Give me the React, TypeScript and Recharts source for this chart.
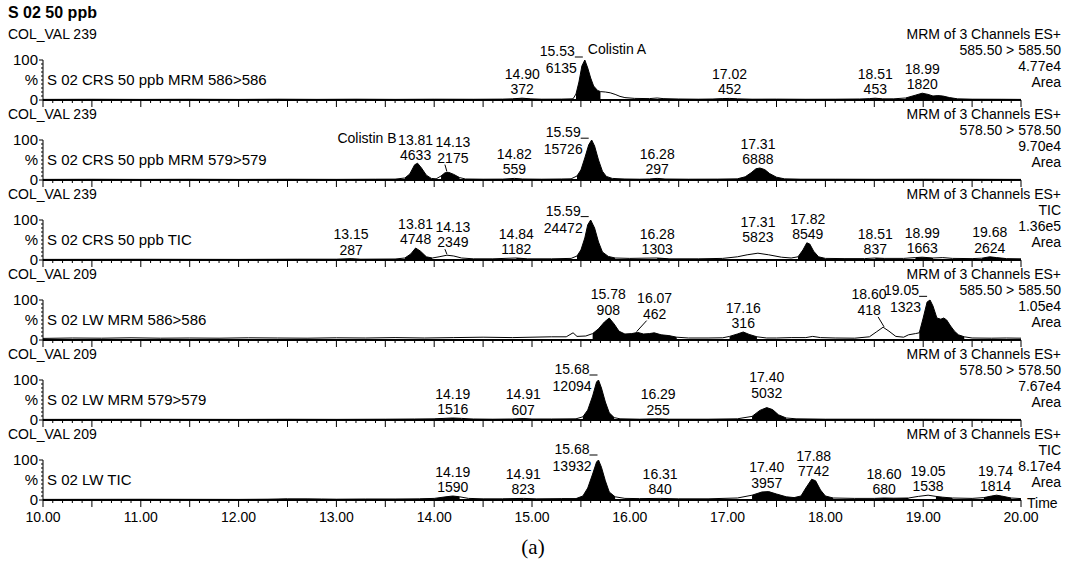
import React from "react";
import { ComposedChart, Area, Line, XAxis, YAxis, ReferenceDot } from "recharts";

const FONT = "'Liberation Sans', Arial, Helvetica, sans-serif";

// x axis: labelled every minute, ticks every 0.1 min
const timeLabels = ["10.00", "11.00", "12.00", "13.00", "14.00", "15.00", "16.00", "17.00", "18.00", "19.00", "20.00"];
const yTicks = [0, 10, 20, 30, 40, 50, 60, 70, 80, 90, 100];

const colValues = ["COL_VAL 239", "COL_VAL 239", "COL_VAL 239", "COL_VAL 209", "COL_VAL 209", "COL_VAL 209"];
const sampleNames = [
  "S 02 CRS 50 ppb MRM 586>586",
  "S 02 CRS 50 ppb MRM 579>579",
  "S 02 CRS 50 ppb TIC",
  "S 02 LW MRM 586>586",
  "S 02 LW MRM 579>579",
  "S 02 LW TIC",
];
const channelNames = ["585.50 > 585.50", "578.50 > 578.50", "TIC", "585.50 > 585.50", "578.50 > 578.50", "TIC"];
const intensities = ["4.77e4", "9.70e4", "1.36e5", "1.05e4", "7.67e4", "8.17e4"];

// traces: [time (min), relative intensity (%)]
const p1Trace: [number, number][] = [
  [10, 1.5], [10.5, 1.8], [11, 1.5], [11.5, 1.8], [12, 1.5], [12.4, 2], [12.8, 1.6], [13.2, 2], [13.6, 1.6],
  [14, 2], [14.4, 1.8], [14.7, 2.2], [14.8, 3], [14.9, 4.5], [14.98, 3], [15.1, 2], [15.3, 2.2], [15.42, 3],
  [15.45, 15], [15.48, 45], [15.51, 85], [15.54, 100], [15.57, 80], [15.6, 55], [15.63, 35], [15.67, 24],
  [15.7, 21], [15.75, 20], [15.8, 18], [15.85, 14], [15.9, 9], [15.95, 6], [16.05, 4], [16.2, 3.5], [16.28, 5],
  [16.34, 3.5], [16.5, 2.5], [16.7, 2], [16.85, 2.5], [16.95, 3.5], [17.02, 4], [17.1, 3], [17.25, 2], [17.5, 2.2],
  [17.8, 1.8], [18.1, 2], [18.35, 2.5], [18.45, 3.5], [18.51, 4.5], [18.58, 3], [18.7, 3], [18.82, 5], [18.92, 12],
  [18.99, 17], [19.05, 14], [19.1, 10], [19.15, 11], [19.2, 10], [19.27, 6], [19.35, 3], [19.5, 2], [19.8, 1.8], [20, 1.5],
];
const p1Windows: [number, number][] = [[14.75, 15.0], [15.43, 15.7], [16.85, 17.15], [18.42, 18.6], [18.8, 19.38]];
const p1Peaks = [
  { rt: "14.90", area: "372" },
  { rt: "15.53", area: "6135", name: "Colistin A" },
  { rt: "17.02", area: "452" },
  { rt: "18.51", area: "453" },
  { rt: "18.99", area: "1820" },
];

const p2Trace: [number, number][] = [
  [10, 1.5], [10.5, 1.8], [11, 1.5], [11.5, 1.8], [12, 1.5], [12.5, 1.8], [13, 1.6], [13.4, 2], [13.6, 2.2],
  [13.7, 5], [13.75, 15], [13.8, 38], [13.83, 42], [13.87, 30], [13.92, 12], [13.97, 4], [14.02, 3], [14.07, 10],
  [14.11, 18], [14.15, 19], [14.2, 14], [14.26, 6], [14.32, 2.5], [14.5, 2], [14.7, 2.2], [14.82, 4], [14.9, 2.5],
  [15.1, 2], [15.3, 2.5], [15.4, 3], [15.46, 10], [15.5, 25], [15.54, 55], [15.58, 88], [15.61, 100], [15.64, 85],
  [15.68, 50], [15.72, 22], [15.76, 9], [15.82, 4], [15.95, 2.5], [16.1, 2], [16.2, 2.5], [16.28, 4], [16.36, 2.5],
  [16.6, 2], [16.9, 2.2], [17.1, 3], [17.18, 8], [17.24, 18], [17.29, 28], [17.33, 30], [17.38, 26], [17.43, 16],
  [17.5, 7], [17.58, 3], [17.75, 2], [18.1, 2], [18.5, 1.8], [19, 2], [19.5, 1.8], [20, 1.5],
];
const p2Windows: [number, number][] = [[13.68, 14.0], [14.03, 14.3], [14.72, 14.92], [15.42, 15.85], [16.18, 16.4], [17.1, 17.6]];
const p2Peaks = [
  { rt: "13.81", area: "4633", name: "Colistin B" },
  { rt: "14.13", area: "2175" },
  { rt: "14.82", area: "559" },
  { rt: "15.59", area: "15726" },
  { rt: "16.28", area: "297" },
  { rt: "17.31", area: "6888" },
];

const p3Trace: [number, number][] = [
  [10, 1.5], [11, 1.8], [12, 1.5], [12.6, 2], [13, 2], [13.15, 3.5], [13.25, 2], [13.6, 2.5], [13.7, 5],
  [13.76, 15], [13.81, 30], [13.86, 22], [13.92, 8], [13.98, 5], [14.05, 8], [14.13, 12], [14.2, 10], [14.28, 5],
  [14.4, 3], [14.6, 3], [14.84, 5], [14.95, 3], [15.2, 3], [15.4, 4], [15.46, 10], [15.5, 25], [15.54, 55],
  [15.57, 88], [15.6, 100], [15.64, 80], [15.68, 45], [15.72, 20], [15.78, 9], [15.85, 5], [16, 4], [16.28, 5],
  [16.4, 3], [16.7, 3], [16.95, 4], [17.1, 8], [17.2, 13], [17.31, 17], [17.42, 13], [17.55, 7], [17.65, 5],
  [17.72, 8], [17.77, 25], [17.81, 43], [17.84, 40], [17.88, 22], [17.93, 8], [18, 4], [18.2, 3.5], [18.4, 3.5],
  [18.51, 5], [18.6, 4], [18.8, 4], [18.92, 6], [18.99, 7], [19.1, 5], [19.2, 6], [19.3, 4], [19.5, 3.5],
  [19.6, 4.5], [19.68, 8], [19.75, 6], [19.85, 3.5], [20, 3],
];
const p3Windows: [number, number][] = [
  [13.1, 13.22], [13.68, 13.98], [14.7, 14.95], [15.42, 15.85], [16.15, 16.4], [17.66, 18.0], [18.42, 18.62],
  [18.85, 19.1], [19.55, 19.9],
];
const p3Peaks = [
  { rt: "13.15", area: "287" },
  { rt: "13.81", area: "4748" },
  { rt: "14.13", area: "2349" },
  { rt: "14.84", area: "1182" },
  { rt: "15.59", area: "24472" },
  { rt: "16.28", area: "1303" },
  { rt: "17.31", area: "5823" },
  { rt: "17.82", area: "8549" },
  { rt: "18.51", area: "837" },
  { rt: "18.99", area: "1663" },
  { rt: "19.68", area: "2624" },
];

const p4Trace: [number, number][] = [
  [10, 4], [10.3, 5], [10.6, 4.5], [10.9, 5.5], [11.2, 4.5], [11.5, 5], [11.8, 4.5], [12.1, 5.5], [12.4, 5],
  [12.7, 4.5], [13, 5.5], [13.3, 5], [13.6, 6], [13.9, 5], [14.2, 6], [14.5, 7], [14.8, 6], [15, 7], [15.2, 8],
  [15.35, 8], [15.42, 18], [15.46, 9], [15.55, 10], [15.62, 16], [15.68, 28], [15.74, 45], [15.79, 55], [15.84, 40],
  [15.89, 22], [15.95, 15], [16.02, 16], [16.08, 19], [16.14, 15], [16.2, 16], [16.25, 18], [16.32, 13], [16.4, 11],
  [16.48, 7], [16.6, 5], [16.8, 5], [16.95, 5.5], [17.02, 9], [17.1, 15], [17.16, 20], [17.22, 14], [17.3, 8],
  [17.4, 5], [17.5, 5], [17.65, 6], [17.8, 6], [17.87, 9], [17.95, 6], [18.1, 5], [18.3, 4.5], [18.45, 8],
  [18.52, 20], [18.59, 32], [18.65, 22], [18.72, 9], [18.8, 7], [18.85, 13], [18.92, 16], [18.96, 18], [19, 55],
  [19.04, 95], [19.07, 100], [19.1, 85], [19.14, 55], [19.18, 52], [19.21, 55], [19.24, 50], [19.28, 35],
  [19.32, 22], [19.36, 13], [19.42, 8], [19.5, 5], [19.7, 4.5], [19.85, 5], [20, 4.5],
];
const p4Windows: [number, number][] = [[15.58, 16.5], [17.0, 17.35], [18.96, 19.45]];
const p4Peaks = [
  { rt: "15.78", area: "908" },
  { rt: "16.07", area: "462" },
  { rt: "17.16", area: "316" },
  { rt: "18.60", area: "418" },
  { rt: "19.05", area: "1323" },
];

const p5Trace: [number, number][] = [
  [10, 1.5], [11, 1.8], [12, 1.5], [12.5, 1.8], [13, 1.6], [13.5, 2], [13.8, 2.5], [14, 3], [14.1, 4], [14.19, 5],
  [14.28, 4], [14.4, 2.5], [14.6, 2], [14.8, 2.5], [14.91, 3.5], [15, 2.5], [15.2, 2.5], [15.45, 3], [15.52, 8],
  [15.57, 25], [15.62, 60], [15.66, 95], [15.68, 100], [15.71, 80], [15.75, 45], [15.79, 18], [15.84, 6],
  [15.9, 3], [16.1, 2], [16.29, 3], [16.4, 2], [16.8, 2], [17.1, 3], [17.25, 9], [17.33, 24], [17.4, 31],
  [17.46, 26], [17.52, 13], [17.6, 5], [17.7, 3], [18, 2], [18.5, 2], [19, 2], [19.5, 1.8], [20, 1.5],
];
const p5Windows: [number, number][] = [[14.0, 14.35], [14.78, 15.0], [15.48, 15.88], [16.2, 16.38], [17.2, 17.62]];
const p5Peaks = [
  { rt: "14.19", area: "1516" },
  { rt: "14.91", area: "607" },
  { rt: "15.68", area: "12094" },
  { rt: "16.29", area: "255" },
  { rt: "17.40", area: "5032" },
];

const p6Trace: [number, number][] = [
  [10, 1.5], [11, 1.8], [12, 1.5], [12.3, 2], [12.5, 3], [12.7, 3], [12.85, 2.5], [13, 2], [13.3, 2.5], [13.6, 2.5],
  [13.85, 3], [14, 4], [14.12, 8], [14.19, 10], [14.26, 8], [14.35, 4], [14.5, 3], [14.7, 3], [14.91, 4],
  [15.05, 3], [15.3, 3.5], [15.45, 3.5], [15.52, 10], [15.57, 30], [15.62, 65], [15.66, 95], [15.68, 100],
  [15.71, 82], [15.75, 48], [15.79, 20], [15.85, 8], [15.95, 4], [16.1, 3.5], [16.31, 4], [16.5, 3], [16.8, 3],
  [17.1, 5], [17.25, 12], [17.35, 20], [17.42, 21], [17.5, 15], [17.6, 8], [17.68, 6], [17.75, 10], [17.8, 30],
  [17.86, 52], [17.9, 48], [17.95, 25], [18, 10], [18.08, 5], [18.3, 4], [18.5, 4], [18.6, 5], [18.7, 4.5],
  [18.85, 5], [18.95, 9], [19.05, 12], [19.13, 9], [19.2, 7], [19.3, 5], [19.5, 4], [19.62, 6], [19.7, 10],
  [19.75, 12], [19.8, 10], [19.9, 5], [20, 3.5],
];
const p6Windows: [number, number][] = [
  [12.3, 12.6], [12.75, 12.95], [13.82, 14.34], [14.54, 15.01], [15.21, 15.46], [15.46, 15.9], [16.13, 16.44],
  [17.2, 17.62], [17.68, 18.08], [18.5, 18.85], [19.13, 19.35], [19.55, 19.95],
];
const p6Peaks = [
  { rt: "14.19", area: "1590" },
  { rt: "14.91", area: "823" },
  { rt: "15.68", area: "13932" },
  { rt: "16.31", area: "840" },
  { rt: "17.40", area: "3957" },
  { rt: "17.88", area: "7742" },
  { rt: "18.60", area: "680" },
  { rt: "19.05", area: "1538" },
  { rt: "19.74", area: "1814" },
];

// label placement tweaks (panel:rt)
const labelNudge: Record<string, { dx: number; dy: number; leader?: boolean }> = {
  "1:14.13": { dx: 6, dy: -6, leader: true },
  "2:14.13": { dx: 6, dy: -4, leader: true },
  "2:17.31": { dx: 0, dy: -7 },
  "3:16.07": { dx: 18, dy: -10, leader: true },
  "3:18.60": { dx: -15, dy: -9, leader: true },
  "4:17.40": { dx: 0, dy: -6 },
};

const panels = [
  { trace: p1Trace, windows: p1Windows, peaks: p1Peaks },
  { trace: p2Trace, windows: p2Windows, peaks: p2Peaks },
  { trace: p3Trace, windows: p3Windows, peaks: p3Peaks },
  { trace: p4Trace, windows: p4Windows, peaks: p4Peaks },
  { trace: p5Trace, windows: p5Windows, peaks: p5Peaks },
  { trace: p6Trace, windows: p6Windows, peaks: p6Peaks },
];

const W = 1066;
const H = 572;
const CHART_H = 126;
const STEP = 80;

function valueAt(trace: [number, number][], t: number) {
  for (let i = 1; i < trace.length; i++) {
    const [t0, v0] = trace[i - 1];
    const [t1, v1] = trace[i];
    if (t >= t0 && t <= t1) return v0 + ((v1 - v0) * (t - t0)) / (t1 - t0);
  }
  return 0;
}

function XTick(props: any) {
  const { x, y, payload, showLabels } = props;
  const k = Math.round((payload.value - 10) * 10);
  const major = k % 5 === 0;
  const lab = showLabels && k % 10 === 0 ? timeLabels[k / 10] : null;
  return (
    <g>
      <line x1={x} x2={x} y1={y} y2={y + (major ? 7 : 3)} stroke="#000" strokeWidth={1} />
      {lab && (
        <text x={x} y={y + 22} textAnchor="middle" fontSize={14} fontFamily={FONT} fill="#000">
          {lab}
        </text>
      )}
    </g>
  );
}

function YTick(props: any) {
  const { x, y, payload } = props;
  const v = payload.value;
  const major = v === 0 || v === 100;
  const txt = v === 100 ? "100" : v === 0 ? "0" : v === 50 ? "%" : null;
  return (
    <g>
      <line x1={x - (major ? 4 : 2)} x2={x} y1={y} y2={y} stroke="#000" strokeWidth={1} />
      {txt && (
        <text x={x - 5} y={y + 5} textAnchor="end" fontSize={15} fontFamily={FONT} fill="#000">
          {txt}
        </text>
      )}
    </g>
  );
}

function PeakLabel({ cx, cy, peak, height, nudge }: any) {
  if (cx == null || cy == null) return null;
  if (height >= 85) {
    return (
      <g fontFamily={FONT} fontSize={14} fill="#000">
        <text x={cx - 9} y={cy - 6} textAnchor="end">{peak.rt}</text>
        <line x1={cx - 9} x2={cx - 1} y1={cy - 5} y2={cy - 5} stroke="#000" strokeWidth={1} />
        <text x={cx - 7} y={cy + 11} textAnchor="end">{peak.area}</text>
        {peak.name && <text x={cx + 4} y={cy - 8}>{peak.name}</text>}
      </g>
    );
  }
  const dx = nudge ? nudge.dx : 0;
  const dy = nudge ? nudge.dy : 0;
  const areaY = cy - 4 + dy;
  const rtY = areaY - 15.5;
  const leadX = cx + dx + (dx > 2 ? -8 : dx < -2 ? 9 : -4);
  return (
    <g fontFamily={FONT} fontSize={14} fill="#000">
      <text x={cx + dx} y={rtY} textAnchor="middle">{peak.rt}</text>
      <text x={cx + dx} y={areaY} textAnchor="middle">{peak.area}</text>
      {peak.name && <text x={cx + dx - 19} y={rtY - 2} textAnchor="end">{peak.name}</text>}
      {nudge && nudge.leader && (
        <line x1={leadX} y1={areaY + 2} x2={cx} y2={cy - 1} stroke="#000" strokeWidth={1} />
      )}
    </g>
  );
}

function Panel({ index }: { index: number }) {
  const { trace, windows, peaks } = panels[index];
  const rows = trace.map(([t, v]) => ({
    t,
    v,
    fill: windows.some(([a, b]) => t >= a && t <= b) ? v : null,
  }));
  const xTicks: number[] = [];
  for (let k = 0; k <= 100; k++) xTicks.push(Math.round((10 + k / 10) * 10) / 10);
  const bottom = index === panels.length - 1;
  return (
    <div style={{ position: "absolute", left: 0, top: index * STEP }}>
      <ComposedChart width={W} height={CHART_H} data={rows} margin={{ top: 60, right: 45, bottom: 0, left: 0 }}>
        <XAxis
          dataKey="t"
          type="number"
          domain={[10, 20]}
          allowDataOverflow
          ticks={xTicks}
          interval={0}
          height={26}
          tickSize={0}
          tickMargin={0}
          axisLine={{ stroke: "#000", strokeWidth: 2 }}
          tickLine={false}
          tick={(p: any) => <XTick {...p} showLabels={bottom} />}
        />
        <YAxis
          type="number"
          domain={[0, 100]}
          ticks={yTicks}
          interval={0}
          width={43}
          tickSize={0}
          tickMargin={0}
          axisLine={{ stroke: "#000", strokeWidth: 1 }}
          tickLine={false}
          tick={(p: any) => <YTick {...p} />}
        />
        <Area
          dataKey="fill"
          type="linear"
          fill="#000"
          fillOpacity={1}
          stroke="none"
          connectNulls={false}
          isAnimationActive={false}
          dot={false}
          activeDot={false}
        />
        <Line
          dataKey="v"
          type="linear"
          stroke="#000"
          strokeWidth={1}
          dot={false}
          activeDot={false}
          isAnimationActive={false}
        />
        {peaks.map((pk) => {
          const t = Number(pk.rt);
          const h = valueAt(trace, t);
          const nudge = labelNudge[`${index}:${pk.rt}`];
          return (
            <ReferenceDot
              key={pk.rt}
              x={t}
              y={h}
              r={0}
              ifOverflow="visible"
              shape={(sp: any) => <PeakLabel cx={sp.cx} cy={sp.cy} peak={pk} height={h} nudge={nudge} />}
            />
          );
        })}
      </ComposedChart>
    </div>
  );
}

export default function App() {
  return (
    <div style={{ position: "absolute", left: 0, top: 0, width: W, height: H, background: "#fff", fontFamily: FONT }}>
      {panels.map((_, i) => (
        <Panel key={i} index={i} />
      ))}
      <svg width={W} height={H} style={{ position: "absolute", left: 0, top: 0, pointerEvents: "none" }} fontFamily={FONT}>
        <text x={8} y={18} fontSize={16} fontWeight="bold" fill="#000">S 02 50 ppb</text>
        {panels.map((_, i) => {
          const A = 100 + STEP * i;
          const info = ["MRM of 3 Channels ES+", channelNames[i], intensities[i], "Area"];
          return (
            <g key={i} fill="#000">
              <text x={8} y={A - 61} fontSize={14}>{colValues[i]}</text>
              {info.map((s, j) => (
                <text key={j} x={1061} y={A - 61 + 16 * j} fontSize={14} textAnchor="end">{s}</text>
              ))}
              <text x={47} y={A - 15} fontSize={15}>{sampleNames[i]}</text>
            </g>
          );
        })}
        <text x={1027} y={508} fontSize={14} fill="#000">Time</text>
        <text x={533} y={554} fontSize={21} textAnchor="middle" fontFamily="'Liberation Serif', 'DejaVu Serif', serif" fill="#000">(a)</text>
      </svg>
    </div>
  );
}
